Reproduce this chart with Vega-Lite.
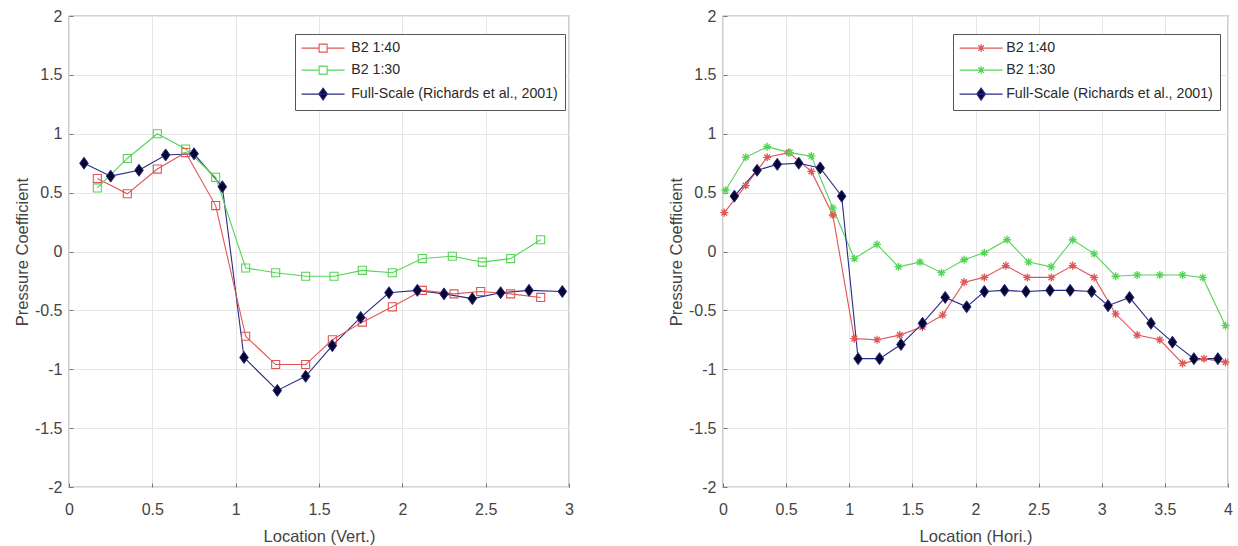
{
  "$schema": "https://vega.github.io/schema/vega-lite/v6.json",
  "padding": {"left": 13, "top": 7, "right": 0, "bottom": 0},
  "background": "white",
  "config": {
    "font": "Liberation Sans",
    "view": {"stroke": "#5a5a5a", "strokeWidth": 1.2},
    "axis": {
      "grid": true, "gridColor": "#e6e6e6", "gridWidth": 1,
      "domain": false, "ticks": true, "tickSize": -4, "tickColor": "#777",
      "labelFont": "Liberation Sans", "labelFontSize": 16, "labelColor": "#444",
      "labelFlush": false, "labelOverlap": false,
      "labelExpr": "replace(format(datum.value, '~g'), '\u2212', '-')",
      "titleFont": "Liberation Sans", "titleFontSize": 16.5, "titleFontWeight": "normal", "titleColor": "#444"
    },
    "axisX": {"labelPadding": 18, "minExtent": 29, "maxExtent": 29, "titlePadding": 12},
    "axisY": {"labelPadding": 11, "minExtent": 32, "maxExtent": 32, "titlePadding": 7}
  },
  "datasets": {
    "vert": [
      {"series": "Full-Scale (Richards et al., 2001)", "loc": 0.09, "cp": 0.75},
      {"series": "Full-Scale (Richards et al., 2001)", "loc": 0.25, "cp": 0.64},
      {"series": "Full-Scale (Richards et al., 2001)", "loc": 0.42, "cp": 0.69},
      {"series": "Full-Scale (Richards et al., 2001)", "loc": 0.58, "cp": 0.82},
      {"series": "Full-Scale (Richards et al., 2001)", "loc": 0.75, "cp": 0.83},
      {"series": "Full-Scale (Richards et al., 2001)", "loc": 0.92, "cp": 0.55},
      {"series": "Full-Scale (Richards et al., 2001)", "loc": 1.05, "cp": -0.9},
      {"series": "Full-Scale (Richards et al., 2001)", "loc": 1.25, "cp": -1.18},
      {"series": "Full-Scale (Richards et al., 2001)", "loc": 1.42, "cp": -1.06},
      {"series": "Full-Scale (Richards et al., 2001)", "loc": 1.58, "cp": -0.8},
      {"series": "Full-Scale (Richards et al., 2001)", "loc": 1.75, "cp": -0.56},
      {"series": "Full-Scale (Richards et al., 2001)", "loc": 1.92, "cp": -0.35},
      {"series": "Full-Scale (Richards et al., 2001)", "loc": 2.09, "cp": -0.33},
      {"series": "Full-Scale (Richards et al., 2001)", "loc": 2.25, "cp": -0.36},
      {"series": "Full-Scale (Richards et al., 2001)", "loc": 2.42, "cp": -0.4},
      {"series": "Full-Scale (Richards et al., 2001)", "loc": 2.59, "cp": -0.35},
      {"series": "Full-Scale (Richards et al., 2001)", "loc": 2.76, "cp": -0.33},
      {"series": "Full-Scale (Richards et al., 2001)", "loc": 2.96, "cp": -0.34},
      {"series": "B2 1:40", "loc": 0.17, "cp": 0.62},
      {"series": "B2 1:40", "loc": 0.35, "cp": 0.49},
      {"series": "B2 1:40", "loc": 0.53, "cp": 0.7},
      {"series": "B2 1:40", "loc": 0.7, "cp": 0.84},
      {"series": "B2 1:40", "loc": 0.88, "cp": 0.39},
      {"series": "B2 1:40", "loc": 1.06, "cp": -0.72},
      {"series": "B2 1:40", "loc": 1.24, "cp": -0.96},
      {"series": "B2 1:40", "loc": 1.42, "cp": -0.96},
      {"series": "B2 1:40", "loc": 1.58, "cp": -0.75},
      {"series": "B2 1:40", "loc": 1.76, "cp": -0.6},
      {"series": "B2 1:40", "loc": 1.94, "cp": -0.47},
      {"series": "B2 1:40", "loc": 2.12, "cp": -0.33},
      {"series": "B2 1:40", "loc": 2.31, "cp": -0.36},
      {"series": "B2 1:40", "loc": 2.47, "cp": -0.34},
      {"series": "B2 1:40", "loc": 2.65, "cp": -0.36},
      {"series": "B2 1:40", "loc": 2.83, "cp": -0.39},
      {"series": "B2 1:30", "loc": 0.17, "cp": 0.54},
      {"series": "B2 1:30", "loc": 0.35, "cp": 0.79},
      {"series": "B2 1:30", "loc": 0.53, "cp": 1.0},
      {"series": "B2 1:30", "loc": 0.7, "cp": 0.87},
      {"series": "B2 1:30", "loc": 0.88, "cp": 0.63},
      {"series": "B2 1:30", "loc": 1.06, "cp": -0.14},
      {"series": "B2 1:30", "loc": 1.24, "cp": -0.18},
      {"series": "B2 1:30", "loc": 1.42, "cp": -0.21},
      {"series": "B2 1:30", "loc": 1.59, "cp": -0.21},
      {"series": "B2 1:30", "loc": 1.76, "cp": -0.16},
      {"series": "B2 1:30", "loc": 1.94, "cp": -0.18},
      {"series": "B2 1:30", "loc": 2.12, "cp": -0.06},
      {"series": "B2 1:30", "loc": 2.3, "cp": -0.04},
      {"series": "B2 1:30", "loc": 2.48, "cp": -0.09},
      {"series": "B2 1:30", "loc": 2.65, "cp": -0.06},
      {"series": "B2 1:30", "loc": 2.83, "cp": 0.1}
    ],
    "hori": [
      {"series": "B2 1:40", "loc": 0.01, "cp": 0.33},
      {"series": "B2 1:40", "loc": 0.18, "cp": 0.56},
      {"series": "B2 1:40", "loc": 0.35, "cp": 0.8},
      {"series": "B2 1:40", "loc": 0.52, "cp": 0.84},
      {"series": "B2 1:40", "loc": 0.7, "cp": 0.68},
      {"series": "B2 1:40", "loc": 0.87, "cp": 0.31},
      {"series": "B2 1:40", "loc": 1.04, "cp": -0.74},
      {"series": "B2 1:40", "loc": 1.22, "cp": -0.75},
      {"series": "B2 1:40", "loc": 1.4, "cp": -0.71},
      {"series": "B2 1:40", "loc": 1.58, "cp": -0.64},
      {"series": "B2 1:40", "loc": 1.74, "cp": -0.54},
      {"series": "B2 1:40", "loc": 1.91, "cp": -0.26},
      {"series": "B2 1:40", "loc": 2.07, "cp": -0.22},
      {"series": "B2 1:40", "loc": 2.24, "cp": -0.12},
      {"series": "B2 1:40", "loc": 2.41, "cp": -0.22},
      {"series": "B2 1:40", "loc": 2.6, "cp": -0.22},
      {"series": "B2 1:40", "loc": 2.77, "cp": -0.12},
      {"series": "B2 1:40", "loc": 2.94, "cp": -0.22},
      {"series": "B2 1:40", "loc": 3.11, "cp": -0.53},
      {"series": "B2 1:40", "loc": 3.28, "cp": -0.71},
      {"series": "B2 1:40", "loc": 3.46, "cp": -0.75},
      {"series": "B2 1:40", "loc": 3.64, "cp": -0.95},
      {"series": "B2 1:40", "loc": 3.81, "cp": -0.91},
      {"series": "B2 1:40", "loc": 3.98, "cp": -0.94},
      {"series": "B2 1:30", "loc": 0.02, "cp": 0.52},
      {"series": "B2 1:30", "loc": 0.18, "cp": 0.8},
      {"series": "B2 1:30", "loc": 0.35, "cp": 0.89},
      {"series": "B2 1:30", "loc": 0.53, "cp": 0.84},
      {"series": "B2 1:30", "loc": 0.7, "cp": 0.81},
      {"series": "B2 1:30", "loc": 0.87, "cp": 0.37},
      {"series": "B2 1:30", "loc": 1.04, "cp": -0.06},
      {"series": "B2 1:30", "loc": 1.22, "cp": 0.06},
      {"series": "B2 1:30", "loc": 1.39, "cp": -0.13},
      {"series": "B2 1:30", "loc": 1.56, "cp": -0.09},
      {"series": "B2 1:30", "loc": 1.73, "cp": -0.18},
      {"series": "B2 1:30", "loc": 1.91, "cp": -0.07},
      {"series": "B2 1:30", "loc": 2.07, "cp": -0.01},
      {"series": "B2 1:30", "loc": 2.25, "cp": 0.1},
      {"series": "B2 1:30", "loc": 2.42, "cp": -0.09},
      {"series": "B2 1:30", "loc": 2.6, "cp": -0.13},
      {"series": "B2 1:30", "loc": 2.77, "cp": 0.1},
      {"series": "B2 1:30", "loc": 2.94, "cp": -0.02},
      {"series": "B2 1:30", "loc": 3.11, "cp": -0.21},
      {"series": "B2 1:30", "loc": 3.28, "cp": -0.2},
      {"series": "B2 1:30", "loc": 3.46, "cp": -0.2},
      {"series": "B2 1:30", "loc": 3.64, "cp": -0.2},
      {"series": "B2 1:30", "loc": 3.8, "cp": -0.22},
      {"series": "B2 1:30", "loc": 3.98, "cp": -0.63},
      {"series": "Full-Scale (Richards et al., 2001)", "loc": 0.09, "cp": 0.47},
      {"series": "Full-Scale (Richards et al., 2001)", "loc": 0.27, "cp": 0.69},
      {"series": "Full-Scale (Richards et al., 2001)", "loc": 0.43, "cp": 0.74},
      {"series": "Full-Scale (Richards et al., 2001)", "loc": 0.6, "cp": 0.75},
      {"series": "Full-Scale (Richards et al., 2001)", "loc": 0.77, "cp": 0.71},
      {"series": "Full-Scale (Richards et al., 2001)", "loc": 0.94, "cp": 0.47},
      {"series": "Full-Scale (Richards et al., 2001)", "loc": 1.07, "cp": -0.91},
      {"series": "Full-Scale (Richards et al., 2001)", "loc": 1.24, "cp": -0.91},
      {"series": "Full-Scale (Richards et al., 2001)", "loc": 1.41, "cp": -0.79},
      {"series": "Full-Scale (Richards et al., 2001)", "loc": 1.58, "cp": -0.61},
      {"series": "Full-Scale (Richards et al., 2001)", "loc": 1.76, "cp": -0.39},
      {"series": "Full-Scale (Richards et al., 2001)", "loc": 1.93, "cp": -0.47},
      {"series": "Full-Scale (Richards et al., 2001)", "loc": 2.07, "cp": -0.34},
      {"series": "Full-Scale (Richards et al., 2001)", "loc": 2.23, "cp": -0.33},
      {"series": "Full-Scale (Richards et al., 2001)", "loc": 2.4, "cp": -0.34},
      {"series": "Full-Scale (Richards et al., 2001)", "loc": 2.59, "cp": -0.33},
      {"series": "Full-Scale (Richards et al., 2001)", "loc": 2.75, "cp": -0.33},
      {"series": "Full-Scale (Richards et al., 2001)", "loc": 2.92, "cp": -0.34},
      {"series": "Full-Scale (Richards et al., 2001)", "loc": 3.05, "cp": -0.46},
      {"series": "Full-Scale (Richards et al., 2001)", "loc": 3.22, "cp": -0.39},
      {"series": "Full-Scale (Richards et al., 2001)", "loc": 3.39, "cp": -0.61},
      {"series": "Full-Scale (Richards et al., 2001)", "loc": 3.56, "cp": -0.77},
      {"series": "Full-Scale (Richards et al., 2001)", "loc": 3.73, "cp": -0.91},
      {"series": "Full-Scale (Richards et al., 2001)", "loc": 3.92, "cp": -0.91}
    ]
  },
  "spacing": 92,
  "resolve": {"scale": {"color": "independent"}},
  "hconcat": [
    {
      "width": 500,
      "height": 471,
      "data": {"name": "vert"},
      "encoding": {
        "x": {"field": "loc", "type": "quantitative", "scale": {"domain": [0, 3], "nice": false, "zero": false},
              "axis": {"values": [0, 0.5, 1, 1.5, 2, 2.5, 3], "title": "Location (Vert.)"}},
        "y": {"field": "cp", "type": "quantitative", "scale": {"domain": [-2, 2], "nice": false},
              "axis": {"values": [-2, -1.5, -1, -0.5, 0, 0.5, 1, 1.5, 2], "title": "Pressure Coefficient"}}
      },
      "layer": [
        {
          "mark": {"type": "line", "strokeWidth": 1.1},
          "encoding": {
            "color": {"field": "series", "type": "nominal",
                      "scale": {"domain": ["B2 1:40", "B2 1:30", "Full-Scale (Richards et al., 2001)"], "range": ["#e05555", "#55d455", "#2a2a88"]},
                      "legend": {
                        "orient": "none", "legendX": 226, "legendY": 18, "title": null,
                        "fillColor": "white", "strokeColor": "#555", "padding": 7,
                        "labelFont": "Liberation Sans", "labelFontSize": 14.2, "labelColor": "#2a2a2a", "labelLimit": 400,
                        "symbolOffset": 14, "labelOffset": 21, "rowPadding": 7,
                        "encode": {"symbols": {"update": {
                          "shape": {"signal": "datum.value === 'Full-Scale (Richards et al., 2001)' ? 'M-4.3,0H4.3M0,-1.2L0.86,0L0,1.2L-0.86,0Z' : 'M-4.3,0H-0.8M0.8,0H4.3M-0.8,-0.8H0.8V0.8H-0.8Z'"},
                          "fill": {"signal": "datum.value === 'Full-Scale (Richards et al., 2001)' ? '#05052e' : 'transparent'"},
                          "size": {"value": 100},
                          "strokeWidth": {"value": 1.1},
                          "opacity": {"value": 1}
                        }}}
                      }}
          }
        },
        {
          "transform": [{"filter": "datum.series !== 'Full-Scale (Richards et al., 2001)'"}],
          "mark": {"type": "point", "filled": false, "opacity": 1, "size": 144, "strokeWidth": 1.1, "shape": "M-0.67,-0.67H0.67V0.67H-0.67Z"},
          "encoding": {
            "color": {"field": "series", "type": "nominal",
                      "scale": {"domain": ["B2 1:40", "B2 1:30", "Full-Scale (Richards et al., 2001)"], "range": ["#e05555", "#55d455", "#2a2a88"]}}
          }
        },
        {
          "transform": [{"filter": "datum.series === 'Full-Scale (Richards et al., 2001)'"}],
          "mark": {"type": "point", "filled": true, "opacity": 1, "size": 144, "strokeWidth": 1, "shape": "M0,-1L0.72,0L0,1L-0.72,0Z", "fill": "#05052e", "stroke": "#2a2a88"}
        }
      ]
    },
    {
      "width": 505,
      "height": 471,
      "data": {"name": "hori"},
      "encoding": {
        "x": {"field": "loc", "type": "quantitative", "scale": {"domain": [0, 4], "nice": false, "zero": false},
              "axis": {"values": [0, 0.5, 1, 1.5, 2, 2.5, 3, 3.5, 4], "title": "Location (Hori.)"}},
        "y": {"field": "cp", "type": "quantitative", "scale": {"domain": [-2, 2], "nice": false},
              "axis": {"values": [-2, -1.5, -1, -0.5, 0, 0.5, 1, 1.5, 2], "title": "Pressure Coefficient"}}
      },
      "layer": [
        {
          "mark": {"type": "line", "strokeWidth": 1.1},
          "encoding": {
            "color": {"field": "series", "type": "nominal",
                      "scale": {"domain": ["B2 1:40", "B2 1:30", "Full-Scale (Richards et al., 2001)"], "range": ["#e05555", "#55d455", "#2a2a88"]},
                      "legend": {
                        "orient": "none", "legendX": 230, "legendY": 18, "title": null,
                        "fillColor": "white", "strokeColor": "#555", "padding": 7,
                        "labelFont": "Liberation Sans", "labelFontSize": 14.2, "labelColor": "#2a2a2a", "labelLimit": 400,
                        "symbolOffset": 14, "labelOffset": 18, "rowPadding": 7,
                        "encode": {"symbols": {"update": {
                          "shape": {"signal": "datum.value === 'Full-Scale (Richards et al., 2001)' ? 'M-4.3,0H4.3M0,-1.2L0.86,0L0,1.2L-0.86,0Z' : 'M-4.3,0H4.3M0,-0.8V0.8M-0.57,-0.57L0.57,0.57M-0.57,0.57L0.57,-0.57'"},
                          "fill": {"signal": "datum.value === 'Full-Scale (Richards et al., 2001)' ? '#05052e' : 'transparent'"},
                          "size": {"value": 100},
                          "strokeWidth": {"value": 1.2},
                          "opacity": {"value": 1}
                        }}}
                      }}
          }
        },
        {
          "transform": [{"filter": "datum.series !== 'Full-Scale (Richards et al., 2001)'"}],
          "mark": {"type": "point", "filled": false, "opacity": 1, "size": 144, "strokeWidth": 1.3, "shape": "M-0.67,0H0.67M0,-0.67V0.67M-0.47,-0.47L0.47,0.47M-0.47,0.47L0.47,-0.47"},
          "encoding": {
            "color": {"field": "series", "type": "nominal",
                      "scale": {"domain": ["B2 1:40", "B2 1:30", "Full-Scale (Richards et al., 2001)"], "range": ["#e05555", "#55d455", "#2a2a88"]}}
          }
        },
        {
          "transform": [{"filter": "datum.series === 'Full-Scale (Richards et al., 2001)'"}],
          "mark": {"type": "point", "filled": true, "opacity": 1, "size": 144, "strokeWidth": 1, "shape": "M0,-1L0.72,0L0,1L-0.72,0Z", "fill": "#05052e", "stroke": "#2a2a88"}
        }
      ]
    }
  ]
}
